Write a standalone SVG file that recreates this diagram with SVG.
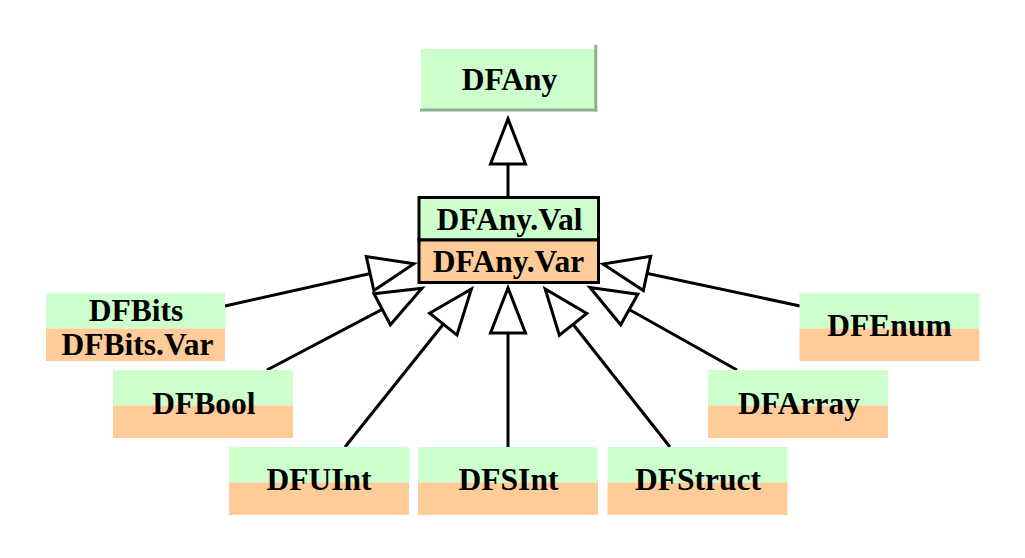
<svg xmlns="http://www.w3.org/2000/svg" width="1025" height="558" viewBox="0 0 1025 558">
<style>
.t{font-family:'Liberation Serif','Times New Roman',serif;font-weight:700;font-size:31.5px;text-anchor:middle;fill:#000}
.g{fill:#ccffcc}
.o{fill:#ffcc99}
.c{stroke:#000;stroke-width:3;fill:none;marker-end:url(#tri)}
.sh{stroke:#8fb08f;stroke-width:3;fill:none}
</style>
<defs>
<marker id="tri" markerUnits="userSpaceOnUse" viewBox="-50 -22 54 44" refX="0" refY="0" markerWidth="54" markerHeight="44" orient="auto" overflow="visible">
<path d="M0,0 L-45,-17.5 L-45,17.5 Z" fill="#fff" stroke="#000" stroke-width="3"/>
</marker>
</defs>
<rect width="1025" height="558" fill="#fff"/>
<g id="connectors">
<line class="c" x1="508" y1="197" x2="508" y2="119"/>
<line class="c" x1="225" y1="306" x2="414" y2="263.7"/>
<line class="c" x1="267" y1="370" x2="422" y2="288.3"/>
<line class="c" x1="345" y1="447" x2="471.4" y2="289"/>
<line class="c" x1="508" y1="447" x2="508" y2="288"/>
<line class="c" x1="670" y1="447" x2="545.2" y2="289"/>
<line class="c" x1="737" y1="370" x2="590" y2="287.5"/>
<line class="c" x1="800" y1="306" x2="603" y2="264"/>
</g>
<g id="DFAny">
<rect class="g" x="421" y="49" width="174" height="60"/>
<line class="sh" x1="595.8" y1="45" x2="595.8" y2="111.5"/>
<line class="sh" x1="420" y1="110" x2="597.3" y2="110"/>
<text class="t" x="509.5" y="89.5">DFAny</text>
</g>
<g id="DFAnyValVar">
<rect class="g" x="419" y="197.5" width="179.5" height="42.5" stroke="#000" stroke-width="3"/>
<rect class="o" x="419" y="240" width="179.5" height="42.5" stroke="#000" stroke-width="3"/>
<text class="t" x="509.5" y="229.5">DFAny.Val</text>
<text class="t" x="508.5" y="272">DFAny.Var</text>
</g>
<g id="DFBits">
<rect class="g" x="46" y="293" width="179" height="35.5"/>
<rect class="o" x="46" y="328.5" width="179" height="32.5"/>
<text class="t" x="136" y="320.5">DFBits</text>
<text class="t" x="137.5" y="354.5">DFBits.Var</text>
</g>
<g id="DFBool">
<rect class="g" x="113" y="370" width="180" height="35.5"/>
<rect class="o" x="113" y="405.5" width="180" height="32.5"/>
<text class="t" x="204" y="413.5">DFBool</text>
</g>
<g id="DFUInt">
<rect class="g" x="229" y="447" width="180" height="35.5"/>
<rect class="o" x="229" y="482.5" width="180" height="32.5"/>
<text class="t" x="319" y="490">DFUInt</text>
</g>
<g id="DFSInt">
<rect class="g" x="418" y="447" width="180" height="35.5"/>
<rect class="o" x="418" y="482.5" width="180" height="32.5"/>
<text class="t" x="508.5" y="490">DFSInt</text>
</g>
<g id="DFStruct">
<rect class="g" x="607.5" y="447" width="180" height="35.5"/>
<rect class="o" x="607.5" y="482.5" width="180" height="32.5"/>
<text class="t" x="698" y="490">DFStruct</text>
</g>
<g id="DFArray">
<rect class="g" x="708" y="370" width="180" height="35.5"/>
<rect class="o" x="708" y="405.5" width="180" height="32.5"/>
<text class="t" x="799" y="413.5">DFArray</text>
</g>
<g id="DFEnum">
<rect class="g" x="799.5" y="293" width="180" height="35.5"/>
<rect class="o" x="799.5" y="328.5" width="180" height="32.5"/>
<text class="t" x="889.5" y="336">DFEnum</text>
</g>
</svg>
